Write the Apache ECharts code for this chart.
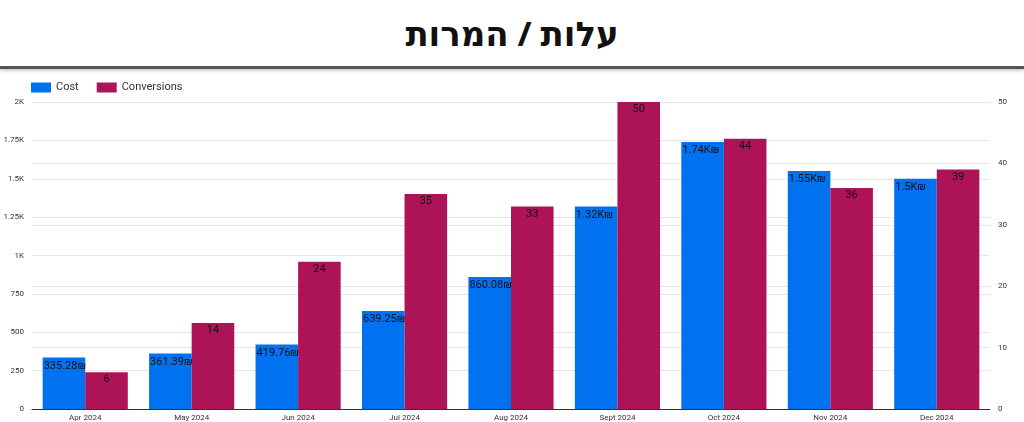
<!DOCTYPE html>
<html><head><meta charset="utf-8">
<script src="https://cdn.jsdelivr.net/npm/echarts@6/dist/echarts.min.js"></script>
<style>html,body{margin:0;padding:0;background:#fff}#t{height:66px;border-bottom:3px solid #555;box-shadow:0 2px 3px #ccc;text-align:center;font:bold 34px "Noto Sans","DejaVu Sans",sans-serif;line-height:66px;color:#111}#c{width:1024px;height:353px}</style>
</head><body>
<div id="t" dir="rtl">עלות / המרות</div>
<div id="c"></div>
<script>
const categories=["Apr 2024","May 2024","Jun 2024","Jul 2024","Aug 2024","Sept 2024","Oct 2024","Nov 2024","Dec 2024"];
const cost=[335.28,361.39,419.76,639.25,860.08,1320,1740,1550,1500];
const conversions=[6,14,24,35,33,50,44,36,39];
const leftTicks=[0,250,500,750,1000,1250,1500,1750,2000];
const fmtK=v=>v>=1000?(+(v/1000).toFixed(2))+'K':String(v);
const costLabel=v=>v>=1000?(+(v/1000).toFixed(2))+'K₪':v.toFixed(2)+'₪';
const chart=echarts.init(document.getElementById('c'));
chart.setOption({
 animation:false,
 textStyle:{fontFamily:'Roboto'},
 legend:{left:26,top:8,itemWidth:20,itemHeight:10,itemGap:18,icon:'rect',textStyle:{fontSize:11,color:'#333'}},
 grid:{left:32,right:34,top:33,bottom:12,containLabel:false},
 xAxis:{type:'category',data:categories,axisTick:{show:false},axisLine:{lineStyle:{color:'#333'}},axisLabel:{fontSize:8,color:'#333',margin:5}},
 yAxis:[{type:'value',min:0,max:2000,interval:250,axisLabel:{fontSize:8,color:'#333',formatter:fmtK},splitLine:{lineStyle:{color:'#e6e6e6'}}},
        {type:'value',min:0,max:50,interval:10,axisLabel:{fontSize:8,color:'#333'},splitLine:{lineStyle:{color:'#e6e6e6'}}}],
 series:[
  {name:'Cost',type:'bar',data:cost,yAxisIndex:0,barGap:'0%',barCategoryGap:'20%',itemStyle:{color:'#0072f0'},
   label:{show:true,position:'insideTopLeft',offset:[-4,-2],fontSize:11,color:'#111',formatter:p=>costLabel(p.value)}},
  {name:'Conversions',type:'bar',data:conversions,yAxisIndex:1,itemStyle:{color:'#ad1457'},
   label:{show:true,position:'insideTop',offset:[0,-3],fontSize:11,color:'#111'}}
 ]
});
</script></body></html>
